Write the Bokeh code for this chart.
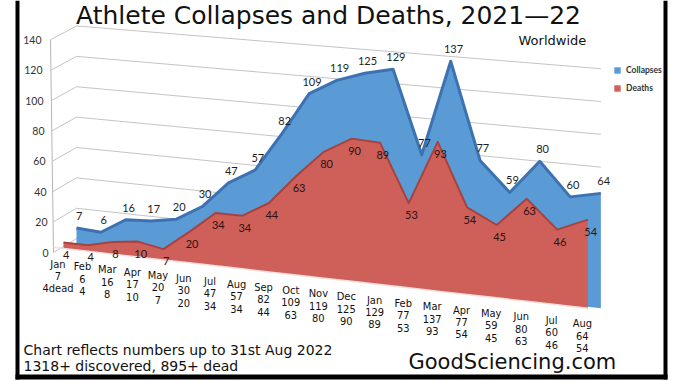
import numpy as np
from bokeh.plotting import figure
from bokeh.models import Range1d, Legend, LegendItem
from bokeh.core.properties import value
from bokeh.embed import file_html
from bokeh.resources import INLINE

# ---------------- data ----------------
months = ["Jan", "Feb", "Mar", "Apr", "May", "Jun", "Jul", "Aug", "Sep", "Oct",
          "Nov", "Dec", "Jan", "Feb", "Mar", "Apr", "May", "Jun", "Jul", "Aug"]
collapses = [7, 6, 16, 17, 20, 30, 47, 57, 82, 109, 119, 125, 129, 77, 137,
             77, 59, 80, 60, 64]
deaths = [4, 4, 8, 10, 7, 20, 34, 34, 44, 63, 80, 90, 89, 53, 93, 54, 45, 63,
          46, 54]
tick_labels = ["Jan\n7\n4dead", "Feb\n6\n4", "Mar\n16\n8", "Apr\n17\n10",
               "May\n20\n7", "Jun\n30\n20", "Jul\n47\n34", "Aug\n57\n34",
               "Sep\n82\n44", "Oct\n109\n63", "Nov\n119\n80", "Dec\n125\n90",
               "Jan\n129\n89", "Feb\n77\n53", "Mar\n137\n93", "Apr\n77\n54",
               "May\n59\n45", "Jun\n80\n63", "Jul\n60\n46", "Aug\n64\n54"]
y_ticks = [0, 20, 40, 60, 80, 100, 120, 140]
series_names = ["Collapses", "Deaths"]

# ---------------- pseudo-3D projection ----------------
W, H = 678, 381
PX_U, X0 = 27.6, 63.0      # px per month-unit, pixel x of Jan (front)
PX_V, Y0 = 1.519, 252.0    # px per value unit, pixel y of value 0 on axis


def dx(X):  # pixel x -> data x
    return (X - X0) / PX_U


def dy(Y):  # pixel y (from top) -> data y
    return (Y0 - Y) / PX_V


n = len(months)
i = np.arange(n, dtype=float)
q = 0.0063
u = i + q * i * (i - (n - 1))          # perspective spacing of months
SHEAR, B0 = 2.07, 2.63                 # floor slope
DEPTH_X, DEPTH_Y = 0.47, 6.5           # offset of back series


def proj(uu, v, depth):
    kk = 1 + 0.08 * uu / (n - 1)
    return uu + DEPTH_X * depth, B0 - SHEAR * uu + DEPTH_Y * depth + v * kk


front_base = B0 - SHEAR * u
col = np.array(collapses, dtype=float)
dth = np.array(deaths, dtype=float)
blue_x, blue_top = proj(u, col, 1)
red_x, red_top = proj(u, dth, 0)

p = figure(width=W, height=H, output_backend="svg", toolbar_location=None,
           x_range=Range1d(dx(0), dx(W)), y_range=Range1d(dy(H), dy(0)),
           x_axis_location=None, y_axis_location=None, min_border=0)
p.outline_line_color = None
p.grid.visible = False
p.background_fill_color = "white"
p.border_fill_color = "white"

# value axis (front-left wall edge) and its tick labels
t = np.array(y_ticks, dtype=float)
p.segment(x0=[dx(53)], y0=[0], x1=[dx(50)], y1=[140], line_color="#b5b5b5",
          line_width=1)
p.text(x=dx(48) - (7 / PX_U) * t / 140, y=t, text=[str(v) for v in y_ticks],
       text_align="right", text_baseline="middle", text_font=value("Lato"),
       text_font_size="10.5px", text_color="#333333")

# gridlines: left wall + back wall
bl_x, bl_y = proj(np.zeros_like(t), t, 1)
br_x, br_y = proj(np.full_like(t, n - 1), t, 1)
p.segment(x0=dx(53) - (3 / PX_U) * t / 140, y0=t, x1=bl_x, y1=bl_y,
          line_color="#c4c4c4", line_width=1)
p.segment(x0=bl_x, y0=bl_y, x1=br_x, y1=br_y, line_color="#c4c4c4",
          line_width=1)

# back series (Collapses)
bx = np.concatenate([blue_x, blue_x[::-1]])
by = np.concatenate([blue_top, front_base[::-1]])
blue = p.patch(bx, by, fill_color="#5B9BD5", line_color=None)
p.line(blue_x, blue_top, line_color="#3C72B2", line_width=3,
       line_join="round")

# front series (Deaths)
rx = np.concatenate([red_x, red_x[::-1]])
ry = np.concatenate([red_top, front_base[::-1]])
red = p.patch(rx, ry, fill_color="#CF5F59", line_color=None)
p.line(red_x, red_top, line_color="#A8423D", line_width=2,
       line_join="round")
p.line(np.r_[dx(53), u], np.r_[B0 - SHEAR * dx(53), front_base],
       line_color="#f3dede", line_width=1.5)

# data labels
lbl_font = value("Lato")
p.text(x=blue_x + 0.1, y=blue_top + 8, text=[str(c) for c in collapses],
       text_align="center", text_baseline="middle", text_font=lbl_font,
       text_font_size="11px", text_color="#1e1e1e")
p.text(x=red_x + 0.1, y=red_top - 8, text=[str(d) for d in deaths],
       text_align="center", text_baseline="middle", text_font=lbl_font,
       text_font_size="11px", text_color="#2a1210")

# category labels along the front floor edge
p.text(x=u - 0.2, y=front_base - 6.0, text=tick_labels, text_align="center",
       text_baseline="top",
       text_font=value("DejaVu Sans Condensed, Liberation Sans, sans-serif"),
       text_font_size="11px", text_line_height=0.95, text_color="#111111")

# legend
legend = Legend(items=[LegendItem(label=series_names[0], renderers=[blue]),
                       LegendItem(label=series_names[1], renderers=[red])],
                location=(613, 288), glyph_width=8, glyph_height=8,
                label_height=10, spacing=8, label_standoff=5, padding=0,
                margin=0, border_line_color=None, background_fill_alpha=0,
                label_text_font="Lato", label_text_font_size="8.5px",
                label_text_font_style="bold", label_text_color="#333333")
p.add_layout(legend)


# free texts (baseline given in pixels; placed by their middle)
def add_text(text, X, Y, size, align="left", color="#111111"):
    p.text(x=[dx(X)], y=[dy(Y - 0.36 * size)], text=[text], text_align=align,
           text_baseline="middle", text_font=value("DejaVu Sans"),
           text_font_size=f"{size}px", text_color=color)


add_text("Athlete Collapses and Deaths, 2021\u201422", 328, 24, 25,
         align="center")
add_text("Worldwide", 518, 45, 13)
add_text("Chart reflects numbers up to 31st Aug 2022", 23, 355, 14)
add_text("1318+ discovered, 895+ dead", 23, 371, 14)
add_text("GoodSciencing.com", 408, 369, 21)

# black picture frame (left, right, bottom edges)
fl = [15, 663, 15]
fr = [19, 667, 667]
fb = [379, 379, 379]
ft = [0, 0, 374]
p.quad(left=[dx(v) for v in fl], right=[dx(v) for v in fr],
       bottom=[dy(v) for v in fb], top=[dy(v) for v in ft],
       fill_color="black", line_color=None)

open("out.html", "w").write(file_html(p, INLINE))
